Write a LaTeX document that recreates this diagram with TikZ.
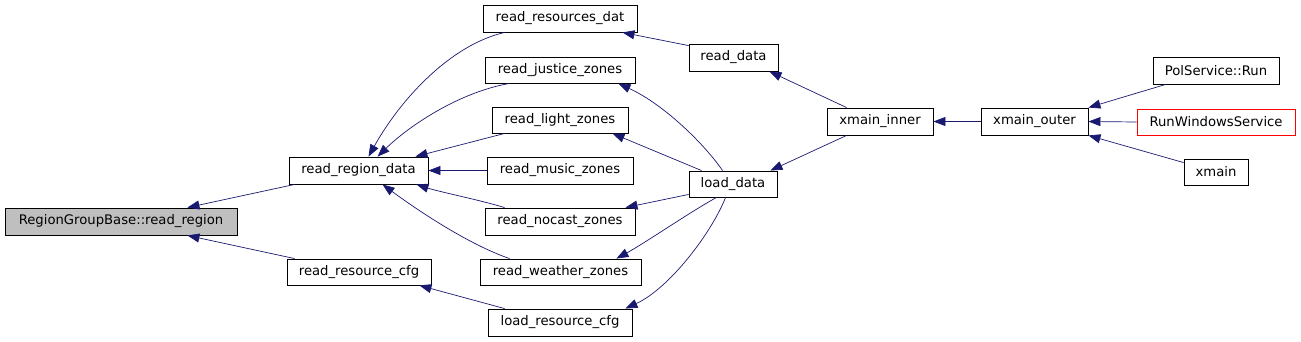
\documentclass[tikz,border=0pt]{standalone}
\usepackage{fontspec}
\setmainfont{DejaVu Sans}
\usetikzlibrary{arrows.meta,calc}
\definecolor{edgeblue}{RGB}{25,25,112}
\definecolor{hilite}{RGB}{191,191,191}
\definecolor{rootred}{RGB}{255,0,0}
\begin{document}
\begin{tikzpicture}[x=1pt,y=-1pt,
  fn/.style={draw=black,line width=0.9pt,fill=white,inner sep=0pt,minimum height=27pt,font=\fontsize{13.2}{15}\selectfont,anchor=center},
  call/.style={draw=edgeblue,line width=0.7pt,-{Triangle[length=12pt,width=9pt]},color=edgeblue}]
\useasboundingbox (0,0) rectangle (1301,341);
\node[fn,fill=hilite,minimum width=232pt] (rgb) at (121,221.5) {RegionGroupBase::read\_region};
\node[fn,minimum width=139pt] (rrd) at (358.5,170.5) {read\_region\_data};
\node[fn,minimum width=144pt,minimum height=26pt] (rcfg) at (359,272) {read\_resource\_cfg};
\node[fn,minimum width=154pt] (rdat) at (560,18.5) {read\_resources\_dat};
\node[fn,minimum width=150pt,minimum height=26pt] (rjz) at (560,70) {read\_justice\_zones};
\node[fn,minimum width=136pt,minimum height=26pt] (rlz) at (560,120) {read\_light\_zones};
\node[fn,minimum width=146pt] (rmz) at (560,170.5) {read\_music\_zones};
\node[fn,minimum width=150pt] (rnz) at (560,221.5) {read\_nocast\_zones};
\node[fn,minimum width=161pt,minimum height=26pt] (rwz) at (560.5,272) {read\_weather\_zones};
\node[fn,minimum width=144pt] (lcfg) at (560,322.5) {load\_resource\_cfg};
\node[fn,minimum width=88pt,minimum height=26pt] (ld) at (733,184) {load\_data};
\node[fn,minimum width=89pt] (rd) at (733.5,57.5) {read\_data};
\node[fn,minimum width=106pt] (xi) at (880,121.5) {xmain\_inner};
\node[fn,minimum width=107pt] (xo) at (1034.5,121.5) {xmain\_outer};
\node[fn,minimum width=126pt] (ps) at (1216,70.5) {PolService::Run};
\node[fn,draw=rootred,line width=1pt,minimum width=158pt,minimum height=26pt] (rws) at (1216,122) {RunWindowsService};
\node[fn,minimum width=64pt,minimum height=26pt] (xm) at (1216,172) {xmain};
% edges
\draw[call] ($(rrd.south west)+(6,0)$) -- ($(rgb.north east)+(-50,0)$);
\draw[call] ($(rcfg.north west)+(8,0)$) -- ($(rgb.south east)+(-50,0)$);
\draw[call] ($(rdat.south west)+(22,0)$) .. controls (450,45) and (400,100) .. ($(rrd.north west)+(80,0)$);
\draw[call] ($(rjz.south west)+(25,0)$) .. controls (460,92) and (410,125) .. ($(rrd.north west)+(89,0)$);
\draw[call] ($(rlz.south west)+(13,0)$) -- ($(rrd.north east)+(-13,0)$);
\draw[call] (rmz.west) -- (rrd.east);
\draw[call] ($(rnz.north west)+(20,0)$) .. controls (480,200) and (440,192) .. ($(rrd.south east)+(-12,0)$);
\draw[call] ($(rwz.north west)+(30,0)$) .. controls (470,245) and (420,212) .. ($(rrd.south west)+(94,0)$);
\draw[call] ($(lcfg.north west)+(17,0)$) -- ($(rcfg.south east)+(-12,0)$);
\draw[call] ($(rd.north west)+(0,2)$) -- ($(rdat.south east)+(-15,0)$);
\draw[call] ($(ld.north west)+(34,0)$) .. controls (705,145) and (665,105) .. ($(rjz.south east)+(-17,0)$);
\draw[call] ($(ld.north west)+(13,0)$) -- ($(rlz.south east)+(-16,0)$);
\draw[call] ($(ld.south west)+(0,-3)$) -- ($(rnz.north east)+(-10,0)$);
\draw[call] ($(ld.south west)+(28,0)$) .. controls (690,212) and (645,243) .. ($(rwz.north east)+(-25,0)$);
\draw[call] ($(ld.south west)+(37,0)$) .. controls (712,232) and (670,288) .. ($(lcfg.north east)+(-7,0)$);
\draw[call] ($(xi.north west)+(20,0)$) -- ($(rd.south east)+(-9,0)$);
\draw[call] ($(xi.south west)+(20,0)$) -- ($(ld.north east)+(-7,0)$);
\draw[call] (xo.west) -- (xi.east);
\draw[call] ($(ps.south west)+(13,0)$) -- (xo.north east);
\draw[call] (rws.west) -- (xo.east);
\draw[call] ($(xm.north west)+(0,4)$) -- (xo.south east);
\end{tikzpicture}
\end{document}
